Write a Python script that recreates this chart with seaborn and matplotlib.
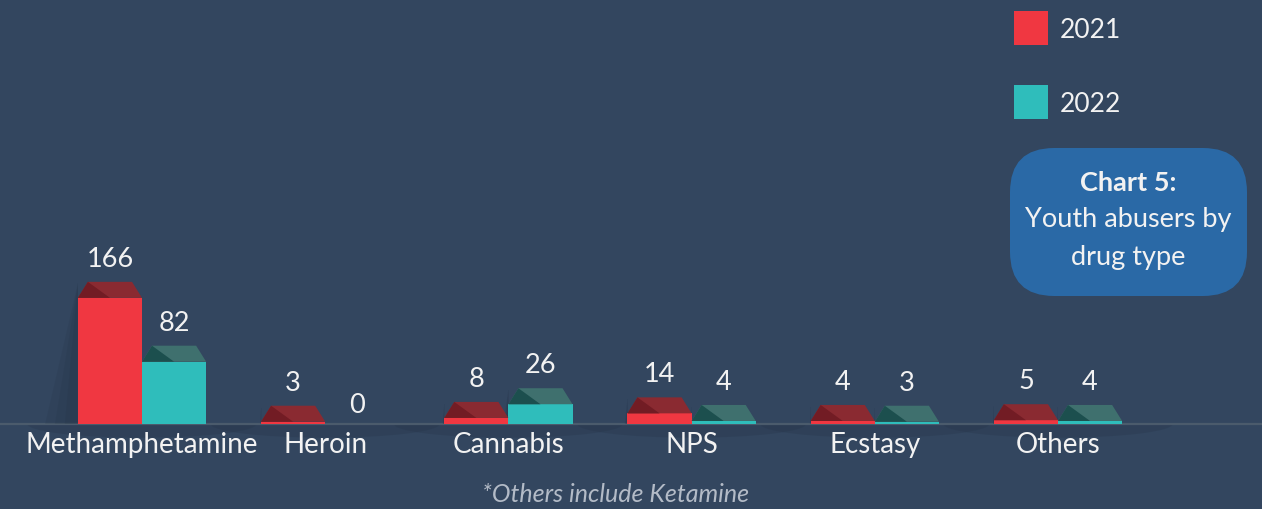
import numpy as np
import pandas as pd
import matplotlib
matplotlib.use("Agg")
import matplotlib.pyplot as plt
from matplotlib.patches import Polygon, Rectangle, FancyBboxPatch, Ellipse
import seaborn as sns

# Data
drugs = ["Methamphetamine", "Heroin", "Cannabis", "NPS", "Ecstasy", "Others"]
years = ["2021", "2022"]
values_2021 = [166, 3, 8, 14, 4, 5]
values_2022 = [82, 0, 26, 4, 3, 4]

bg = "#33465f"
front = {"2021": "#f03741", "2022": "#2fbdbb"}
roof_light = {"2021": "#8a2a31", "2022": "#3f706e"}
roof_dark = {"2021": "#721c24", "2022": "#1c4f4e"}

df = pd.DataFrame({
    "drug": drugs * 2,
    "year": ["2021"] * len(drugs) + ["2022"] * len(drugs),
    "value": values_2021 + values_2022,
})

plt.rcParams["font.family"] = ["Lato", "DejaVu Sans"]

W, H = 1262, 509
fig = plt.figure(figsize=(W / 100, H / 100), dpi=100, facecolor=bg)
ax = fig.add_axes([0, 0, 1, 1])
ax.set_facecolor(bg)

# scale: 183.2 px per category, 0.76 px per unit, baseline at y=424 px
px_x = 183.2
px_y = 0.76

sns.barplot(data=df, x="drug", y="value", hue="year", order=drugs,
            hue_order=years, palette=front, width=0.7, saturation=1,
            dodge=True, legend=False, ax=ax, zorder=3)
ax.set_xlim(-142 / px_x, (W - 142) / px_x)
ax.set_ylim(-(H - 424) / px_y, 424 / px_y)
ax.axis("off")

# below-baseline elliptical shadows per group
clip = Rectangle((-5, -200), 20, 200, transform=ax.transData, visible=False)
ax.add_patch(clip)
for i in range(len(drugs)):
    e = Ellipse((i, 0), 1.25, 36, facecolor="#26354a", alpha=0.3,
                edgecolor="none", zorder=1)
    ax.add_patch(e)
    e.set_clip_path(clip)

ax.axhline(0, color="#4b5b6c", lw=1.6, zorder=2)

roof_h = 16 / px_y
inset = 10 / px_x
bar_rects = [p for p in ax.patches if isinstance(p, Rectangle) and p.get_zorder() == 3]
all_vals = values_2021 + values_2022
for p, v, yr in zip(bar_rects, all_vals, ["2021"] * 6 + ["2022"] * 6):
    x0 = p.get_x()
    w = p.get_width()
    x1 = x0 + w
    h = p.get_height()
    xc = x0 + w / 2
    if v > 0:
        # soft shadow to the left
        for k, a in enumerate([0.12, 0.12, 0.12]):
            f = 1 - k * 0.3
            sh = Polygon([(x0, h + roof_h * 0.9), (x0 - f * h * 0.26 * px_y / px_x, 0), (x0, 0)],
                         closed=True, facecolor="#1f2c3d", alpha=a, edgecolor="none", zorder=2)
            ax.add_patch(sh)
        ax.add_patch(Polygon([(x0, h), (x0 + inset, h + roof_h), (x1 - inset, h + roof_h), (x1, h)],
                             closed=True, facecolor=roof_light[yr], edgecolor="none", zorder=4))
        ax.add_patch(Polygon([(x0, h), (x0 + inset, h + roof_h), (x0 + 0.5 * w, h)],
                             closed=True, facecolor=roof_dark[yr], edgecolor="none", zorder=4))
        ty = h + roof_h + 10 / px_y
    else:
        ty = 6 / px_y
    ax.text(xc, ty, str(v), ha="center", va="bottom", fontsize=19.5,
            color="#f2f2f2", zorder=5)

for i, d in enumerate(drugs):
    ax.text(i, -21 / px_y, d, ha="center", va="center", fontsize=20,
            color="#f2f2f2")

def fx(x):
    return x / W

def fy(y):
    return 1 - y / H

# legend
for yr, ytop in zip(years, [11, 85]):
    fig.patches.append(Rectangle((fx(1014), fy(ytop + 34)), 34 / W, 34 / H,
                                 transform=fig.transFigure, facecolor=front[yr],
                                 edgecolor="none"))
    fig.text(fx(1060), fy(ytop + 19), yr, ha="left", va="center", fontsize=19,
             color="#f2f2f2")

# title box
fig.patches.append(FancyBboxPatch((fx(1010), fy(296)), 237 / W, 148 / H,
                                  boxstyle="round,pad=0,rounding_size=0.035",
                                  transform=fig.transFigure, facecolor="#2a69a6",
                                  edgecolor="none", mutation_aspect=W / H))
fig.text(fx(1128), fy(183), "Chart 5:", ha="center", va="center", fontsize=19.5,
         fontweight="bold", color="#f2f2f2")
fig.text(fx(1128), fy(220), "Youth abusers by", ha="center", va="center",
         fontsize=19.5, color="#f2f2f2")
fig.text(fx(1128), fy(257), "drug type", ha="center", va="center",
         fontsize=19.5, color="#f2f2f2")

fig.text(fx(616), fy(494), "*Others include Ketamine", ha="center", va="center",
         fontsize=18, style="italic", color="#b3bbc7")

fig.savefig("out.png", dpi=100, facecolor=bg)
